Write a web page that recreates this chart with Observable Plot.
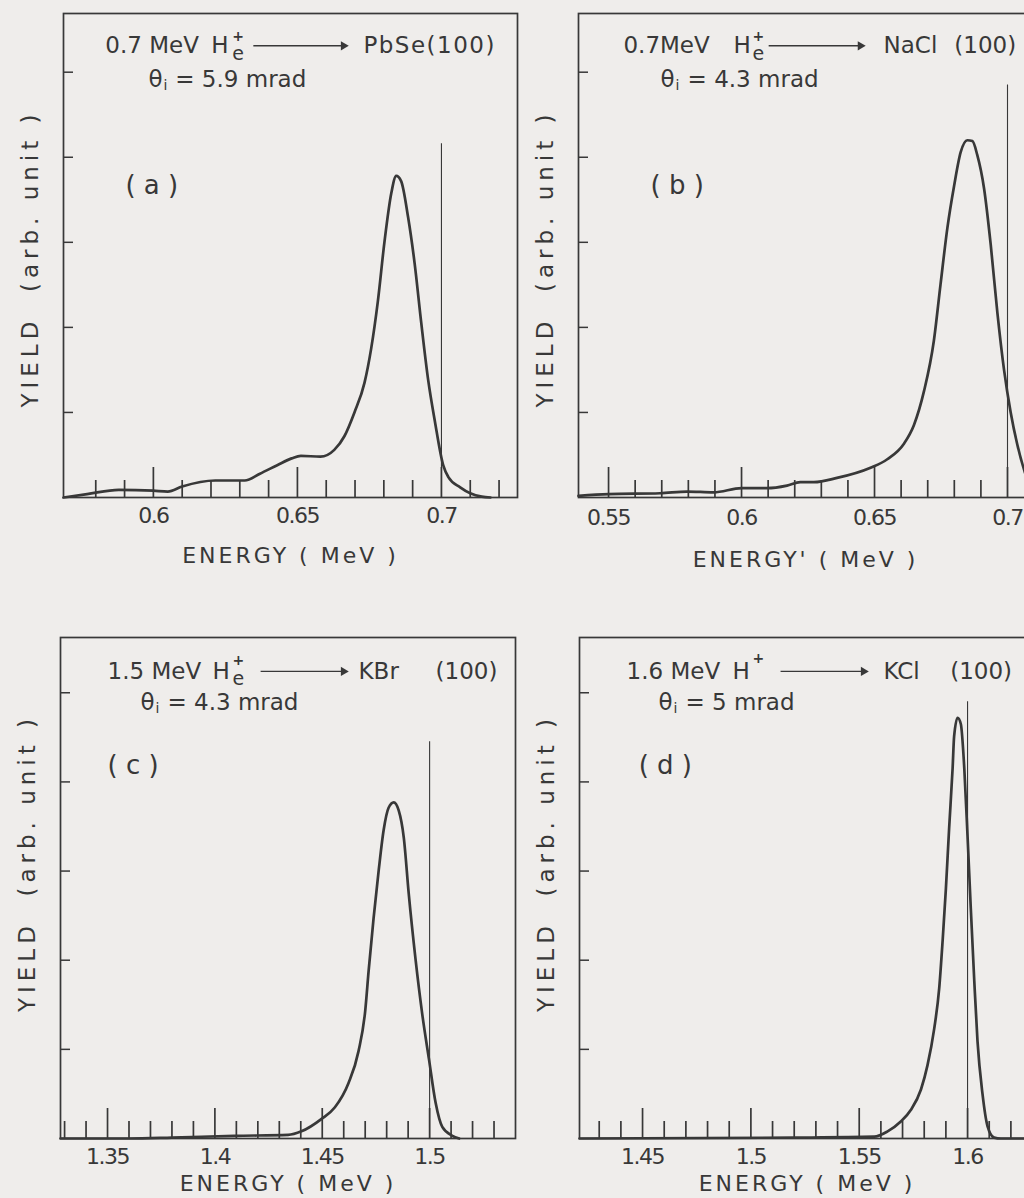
<!DOCTYPE html>
<html><head><meta charset="utf-8">
<script src="https://cdn.jsdelivr.net/npm/d3@7"></script>
<script src="https://cdn.jsdelivr.net/npm/@observablehq/plot@0.6"></script>
<style>
html,body{margin:0;padding:0;background:#efedeb;overflow:hidden;}
#page{position:relative;width:1024px;height:1198px;overflow:hidden;}
.panel{position:absolute;}
</style></head><body><div id="page"></div>
<script>
// ---------------- data ----------------
// (a) 0.7 MeV He+ -> PbSe(100)
const ENERGY_A = [0.5688,0.577,0.588,0.600,0.605,0.610,0.6215,0.6317,0.637,0.643,0.648,0.6512,0.658,0.6628,0.6663,0.6698,0.6733,0.6756,0.6779,0.6802,0.6826,0.6843,0.6860,0.6884,0.6907,0.6930,0.6954,0.6977,0.7006,0.7024,0.7065,0.710,0.714,0.717];
const YIELD_A  = [0,0.04,0.09,0.08,0.07,0.13,0.2,0.2,0.28,0.38,0.46,0.49,0.48,0.56,0.72,1.0,1.35,1.75,2.3,3.0,3.58,3.78,3.72,3.3,2.75,2.05,1.38,0.9,0.38,0.24,0.12,0.05,0.01,0];
// (b) 0.7 MeV He+ -> NaCl(100)
const ENERGY_B = [0.5387,0.55,0.5694,0.5795,0.5895,0.600,0.6096,0.6171,0.6221,0.6272,0.6359,0.6485,0.6548,0.6610,0.6648,0.6686,0.6723,0.6748,0.6774,0.6799,0.6824,0.6849,0.6868,0.6886,0.6912,0.6937,0.6962,0.6987,0.7012,0.7037,0.7065,0.709];
const YIELD_B  = [0.02,0.04,0.05,0.07,0.06,0.11,0.11,0.14,0.18,0.18,0.23,0.35,0.45,0.63,0.85,1.25,1.84,2.5,3.17,3.66,4.06,4.2,4.19,4.03,3.63,2.97,2.17,1.5,1.0,0.62,0.3,0.1];
// (c) 1.5 MeV He+ -> KBr(100)
const ENERGY_C = [1.3281,1.36,1.38,1.4091,1.4341,1.4403,1.4497,1.4559,1.4622,1.4669,1.4700,1.4716,1.4739,1.4763,1.4786,1.4809,1.4833,1.4856,1.4880,1.4903,1.4934,1.4966,1.4997,1.5028,1.5059,1.5106,1.5138];
const YIELD_C  = [0,0,0.01,0.03,0.04,0.08,0.22,0.35,0.62,0.98,1.43,1.88,2.47,3.01,3.46,3.71,3.77,3.68,3.37,2.74,2.02,1.39,0.89,0.40,0.13,0.03,0];
// (d) 1.6 MeV H+ -> KCl(100)
const ENERGY_D = [1.4209,1.52,1.5569,1.5631,1.5692,1.5738,1.5785,1.5815,1.5846,1.5869,1.5885,1.5900,1.5915,1.5931,1.5938,1.5954,1.5969,1.5985,1.6000,1.6015,1.6031,1.6046,1.6069,1.6092,1.6123,1.6154,1.6309];
const YIELD_D  = [0,0.01,0.02,0.08,0.19,0.32,0.55,0.82,1.23,1.68,2.22,2.80,3.48,4.15,4.51,4.72,4.65,4.15,3.39,2.58,1.77,1.09,0.50,0.14,0.01,0,0];

// incident-energy reference lines
const REF_ENERGY = [0.7, 0.7, 1.5, 1.6];
const REF_TOP    = [4.16, 4.85, 4.45, 4.9];

// tick values
const MAJOR_A = [0.6, 0.65, 0.7];
const MINOR_A = [0.58,0.59,0.61,0.62,0.63,0.64,0.66,0.67,0.68,0.69,0.71,0.72];
const MAJOR_B = [0.55, 0.6, 0.65, 0.7];
const MINOR_B = [0.56,0.57,0.58,0.59,0.61,0.62,0.63,0.64,0.66,0.67,0.68,0.69];
const MAJOR_C = [1.35, 1.4, 1.45, 1.5];
const MINOR_C = [1.33,1.34,1.36,1.37,1.38,1.39,1.41,1.42,1.43,1.44,1.46,1.47,1.48,1.49,1.51,1.52,1.53];
const MAJOR_D = [1.45, 1.5, 1.55, 1.6];
const MINOR_D = [1.43,1.44,1.46,1.47,1.48,1.49,1.51,1.52,1.53,1.54,1.56,1.57,1.58,1.59,1.61,1.62];
const Y_TICKS = [1, 2, 3, 4, 5];

// texts
const X_LABELS = ["ENERGY ( MeV )", "ENERGY' ( MeV )", "ENERGY ( MeV )", "ENERGY ( MeV )"];
const Y_LABEL = "YIELD  (arb. unit )";
const BEAM_ENERGY = ["0.7 MeV", "0.7MeV", "1.5 MeV", "1.6 MeV"];
const TARGET = [["PbSe(100)"], ["NaCl", "(100)"], ["KBr", "(100)"], ["KCl", "(100)"]];
const ANGLE = ["= 5.9 mrad", "= 4.3 mrad", "= 4.3 mrad", "= 5 mrad"];
const PANEL_TAG = ["( a )", "( b )", "( c )", "( d )"];

// ---------------- layout ----------------
const ink = "#383838";
const FONT = "DejaVu Sans";
const layout = [
  { left: 0,   top: 0,   width: 530, height: 590, ml: 63, mr: 13, mt: 13, mb: 93, xd: [0.5688, 0.7264], yd: [0, 5.69],
    tickPad: 10, xlabDy: 58, ylabDy: 3,
    line1: 5.31, sub: 5.21, sup: 5.42, line2: 4.91, iY: 4.84, tagY: 3.67,
    xE: 0.5833, xH: 0.6201, xe: 0.6274, xArrow: [0.6347, 0.666], xT: [0.6729], xTh: 0.5983, xi: 0.6035, xEq: 0.6076, xTag: 0.5903 },
  { left: 520, top: 0,   width: 530, height: 590, ml: 58, mr: 18, mt: 13, mb: 93, xd: [0.5387, 0.7094], yd: [0, 5.69],
    tickPad: 12, xlabDy: 62, ylabDy: 3,
    line1: 5.31, sub: 5.21, sup: 5.42, line2: 4.91, iY: 4.84, tagY: 3.67,
    xE: 0.5556, xH: 0.5970, xe: 0.6041, xArrow: [0.6102, 0.6447], xT: [0.6534, 0.6800], xTh: 0.5695, xi: 0.5752, xEq: 0.5797, xTag: 0.5658 },
  { left: 0,   top: 600, width: 530, height: 598, ml: 60, mr: 15, mt: 37, mb: 60, xd: [1.3281, 1.5400], yd: [0, 5.62],
    tickPad: 10, xlabDy: 45, ylabDy: -25,
    line1: 5.24, sub: 5.15, sup: 5.36, line2: 4.89, iY: 4.82, tagY: 4.18,
    xE: 1.35, xH: 1.3989, xe: 1.4082, xArrow: [1.4213, 1.4599], xT: [1.4669, 1.5028], xTh: 1.3654, xi: 1.3724, xEq: 1.3779, xTag: 1.35 },
  { left: 520, top: 600, width: 530, height: 598, ml: 59, mr: 16, mt: 37, mb: 60, xd: [1.4209, 1.6309], yd: [0, 5.62],
    tickPad: 10, xlabDy: 45, ylabDy: -25,
    line1: 5.24, sub: null, sup: 5.38, line2: 4.89, iY: 4.82, tagY: 4.18,
    xE: 1.4426, xH: 1.4915, xe: 1.5008, xArrow: [1.5137, 1.552], xT: [1.5612, 1.5920], xTh: 1.4574, xi: 1.4643, xEq: 1.4698, xTag: 1.4482 }
];
const series = [[ENERGY_A, YIELD_A], [ENERGY_B, YIELD_B], [ENERGY_C, YIELD_C], [ENERGY_D, YIELD_D]];
const majors = [MAJOR_A, MAJOR_B, MAJOR_C, MAJOR_D];
const minors = [MINOR_A, MINOR_B, MINOR_C, MINOR_D];

const page = document.getElementById("page");

layout.forEach((L, i) => {
  const innerW = L.width - L.ml - L.mr;
  const innerH = L.height - L.mt - L.mb;
  const [E, Y] = series[i];
  const txt = (x, y, t, opts = {}) => Plot.text([t], {x: [x], y: [y], text: d => d, textAnchor: "start", lineAnchor: "middle", fontSize: 23, fill: ink, ...opts});
  const marks = [
    Plot.frame({stroke: ink, strokeWidth: 1.7}),
    Plot.tickX(minors[i], {x: d => d, insetTop: innerH - 17, stroke: ink, strokeWidth: 1.7}),
    Plot.tickX(majors[i], {x: d => d, insetTop: innerH - 30, stroke: ink, strokeWidth: 1.7}),
    Plot.tickY(Y_TICKS, {y: d => d, insetRight: innerW - 10, stroke: ink, strokeWidth: 1.5}),
    Plot.axisX(majors[i], {tickSize: 0, tickPadding: L.tickPad, fontSize: 22, tickFormat: d => String(d), label: null, fill: ink}),
    Plot.ruleX([REF_ENERGY[i]], {x: d => d, y1: 0, y2: REF_TOP[i], stroke: ink, strokeWidth: 1.1}),
    Plot.line(E, {x: E, y: Y, curve: "monotone-x", stroke: ink, strokeWidth: 2.7, strokeLinejoin: "round"}),
    // annotation
    txt(L.xE, L.line1, BEAM_ENERGY[i]),
    txt(L.xH, L.line1, "H"),
    txt(L.xe, L.sup, "+", {fontSize: 14, fontWeight: "bold"}),
    Plot.link([0], {x1: [L.xArrow[0]], x2: [L.xArrow[1]], y1: [L.line1], y2: [L.line1], stroke: ink, strokeWidth: 1.4}),
    Plot.dot([0], {x: [L.xArrow[1]], y: [L.line1], symbol: "triangle", rotate: 90, r: 3.4, fill: ink, stroke: "none"}),
    txt(L.xTh, L.line2, "θ"),
    txt(L.xi, L.iY, "i", {fontSize: 14}),
    txt(L.xEq, L.line2, ANGLE[i]),
    txt(L.xTag, L.tagY, PANEL_TAG[i], {fontSize: 26}),
    Plot.text([X_LABELS[i]], {frameAnchor: "bottom", textAnchor: "middle", lineAnchor: "middle", dy: L.xlabDy, text: d => d, fontSize: 22, fill: ink}),
    Plot.text([Y_LABEL], {frameAnchor: "left", textAnchor: "middle", lineAnchor: "middle", dx: -33, dy: L.ylabDy, rotate: -90, text: d => d, fontSize: 23, fill: ink})
  ];
  if (L.sub !== null) marks.push(txt(L.xe, L.sub, "e", {fontSize: 19}));
  TARGET[i].forEach((t, k) => marks.push(txt(L.xT[k], L.line1, t)));

  const svg = Plot.plot({
    width: L.width, height: L.height,
    marginLeft: L.ml, marginRight: L.mr, marginTop: L.mt, marginBottom: L.mb,
    x: {domain: L.xd, axis: null},
    y: {domain: L.yd, axis: null},
    style: {fontFamily: FONT, color: ink, background: "transparent", overflow: "visible"},
    marks
  });
  svg.classList.add("panel");
  svg.style.left = L.left + "px";
  svg.style.top = L.top + "px";
  page.appendChild(svg);

  d3.select(svg).selectAll("text").each(function() {
    const t = this.textContent;
    const g = this.parentNode;
    if (g && g.getAttribute && g.getAttribute("aria-label") === "x-axis tick label") this.setAttribute("letter-spacing", "-1.5");
    else if (t.startsWith("ENERGY")) this.setAttribute("letter-spacing", "3");
    else if (t.startsWith("YIELD")) this.setAttribute("letter-spacing", "5");
    else if (t === "PbSe(100)") this.setAttribute("letter-spacing", "1.5");
  });
});
</script>
</body></html>
